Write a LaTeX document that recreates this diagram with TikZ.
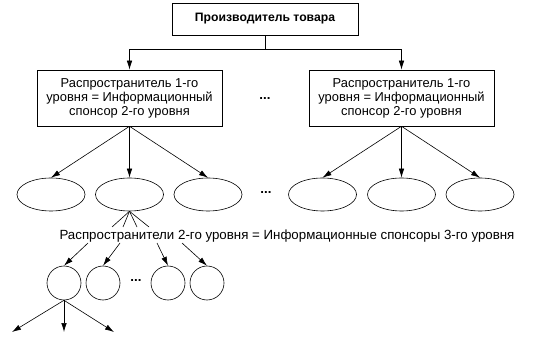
\documentclass[tikz,border=0pt]{standalone}
\usepackage{fontspec}
\setmainfont{Liberation Sans}
\usetikzlibrary{arrows.meta,positioning,shapes.geometric}

\begin{document}
\begin{tikzpicture}[x=1pt,y=-1pt,
  line width=0.6pt,
  box/.style={draw,align=center,inner sep=0pt,font=\fontsize{12.9}{14}\selectfont},
  oval/.style={draw,ellipse,minimum width=68pt,minimum height=33pt,inner sep=0pt},
  ring/.style={draw,circle,minimum size=34pt,inner sep=0pt},
  arr/.style={-{Latex[length=9pt,width=5.5pt]}},
  every node/.style={font=\fontsize{13.3}{15}\selectfont}]
  \useasboundingbox (0,0) rectangle (556,344);
  % producer and first level
  \node[box,font=\fontsize{12.2}{15}\selectfont\bfseries,minimum width=186pt,minimum height=32pt] (maker) at (265,19) {Производитель товара};
  \node[box,minimum width=185pt,minimum height=56pt] (distA) at (129.5,98) {Распространитель 1-го\\уровня = Информационный\\спонсор 2-го уровня};
  \node[box,minimum width=185pt,minimum height=56pt] (distB) at (401.5,98) {Распространитель 1-го\\уровня = Информационный\\спонсор 2-го уровня};
  \node (dotsA) at (265,99) {\textbf{...}};
  \coordinate (fork) at (265,49);
  \draw (maker) -- (fork);
  \draw[arr] (fork) -| (distA.north);
  \draw[arr] (fork) -| (distB.north);
  % second level
  \node[oval] (subA1) at (51,194.5) {};
  \node[oval] (subA2) at (129.5,194.5) {};
  \node[oval] (subA3) at (208,194.5) {};
  \node (dotsB) at (266,193) {\textbf{...}};
  \node[oval] (subB1) at (322.5,194.5) {};
  \node[oval] (subB2) at (401.5,194.5) {};
  \node[oval] (subB3) at (480,194.5) {};
  \draw[arr] (distA.south) -- (subA1.north);
  \draw[arr] (distA.south) -- (subA2.north);
  \draw[arr] (distA.south) -- (subA3.north);
  \draw[arr] (distB.south) -- (subB1.north);
  \draw[arr] (distB.south) -- (subB2.north);
  \draw[arr] (distB.south) -- (subB3.north);
  % third level
  \node (level2) at (287,236) {Распространители 2-го уровня = Информационные спонсоры 3-го уровня};
  \coordinate (fan1) at (112,227);
  \coordinate (fan2) at (123,227);
  \coordinate (fan3) at (137,227);
  \coordinate (fan4) at (149,227);
  \foreach \i in {1,...,4} \draw (subA2.south) -- (fan\i);
  \node[ring] (ring1) at (64,283) {};
  \node[ring] (ring2) at (103,283) {};
  \node (dotsC) at (136,281) {\textbf{...}};
  \node[ring] (ring3) at (168,283) {};
  \node[ring] (ring4) at (207,283) {};
  \coordinate (tail1) at (88,243);
  \coordinate (tail2) at (120,243);
  \coordinate (tail3) at (157,243);
  \coordinate (tail4) at (182,243);
  \foreach \i in {1,...,4} \draw[arr] (tail\i) -- (ring\i.north);
  % next level
  \coordinate (down1) at (12,332);
  \coordinate (down2) at (64,332);
  \coordinate (down3) at (114,332);
  \foreach \i in {1,...,3} \draw[arr] (ring1.south) -- (down\i);
\end{tikzpicture}
\end{document}
